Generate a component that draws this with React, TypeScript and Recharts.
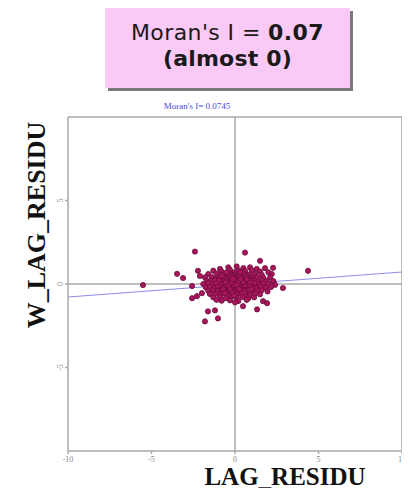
import React from "react";
import { ScatterChart, Scatter, XAxis, YAxis, ReferenceLine } from "recharts";

const xTicks = [-10, -5, 0, 5, 10];
const yTicks = [-5, 0, 5];
const regression = [
  { x: -10, y: -0.78 },
  { x: 10, y: 0.72 },
];
const titleLine1 = "Moran's I = ";
const titleValue = "0.07";
const titleLine2 = "(almost 0)";
const subtitle = "Moran's I= 0.0745";
const xTitle = "LAG_RESIDU";
const yTitle = "W_LAG_RESIDU";

const outliers: [number, number][] = [
  [-2.4, 1.94], [0.6, 1.88], [1.5, 1.39], [2.28, 0.97], [4.37, 0.79], [-3.47, 0.61],
  [-3.11, 0.36], [-2.22, 0.79], [-2.1, 0.48], [-5.51, -0.06], [-2.57, -0.12],
  [-2.57, -0.85], [-2.28, -0.73], [-1.98, -0.55], [-1.62, -1.64], [-1.2, -1.58],
  [-1.8, -2.24], [-1.02, -2.06], [0.48, -1.33], [1.32, -1.52], [1.68, -1.03],
  [1.92, -1.15], [2.87, -0.24], [2.28, 0.18],
];

const cluster: [number, number][] = [
  [-0.4, 1.0], [0.1, 1.05], [0.5, 0.95], [-0.9, 0.9], [0.9, 1.0], [1.3, 0.9], [1.8, 0.95],
  [-1.3, 0.8], [-0.8, 0.75], [-0.3, 0.85], [0.2, 0.8], [0.6, 0.78], [1.0, 0.82], [1.5, 0.75], [2.0, 0.7], [-0.05, 0.7],
  [-1.6, 0.6], [-1.1, 0.62], [-0.7, 0.58], [-0.4, 0.65], [-0.1, 0.55], [0.25, 0.6], [0.5, 0.62], [0.85, 0.57], [1.2, 0.6], [1.6, 0.55], [2.2, 0.6], [-0.25, 0.5], [0.7, 0.5],
  [-1.8, 0.4], [-1.4, 0.42], [-1.0, 0.38], [-0.75, 0.45], [-0.5, 0.4], [-0.3, 0.35], [-0.1, 0.42], [0.1, 0.38], [0.3, 0.45], [0.55, 0.4], [0.8, 0.35], [1.05, 0.42], [1.35, 0.4], [1.7, 0.38], [2.1, 0.4], [0.0, 0.3], [0.45, 0.28], [-0.6, 0.3], [-1.2, 0.3], [1.0, 0.28],
  [-1.7, 0.2], [-1.45, 0.18], [-1.2, 0.22], [-0.95, 0.2], [-0.7, 0.15], [-0.5, 0.22], [-0.35, 0.18], [-0.2, 0.25], [-0.05, 0.15], [0.1, 0.22], [0.25, 0.18], [0.4, 0.2], [0.6, 0.15], [0.75, 0.22], [0.95, 0.18], [1.15, 0.2], [1.4, 0.15], [1.65, 0.2], [1.9, 0.18], [2.3, 0.15],
  [-1.9, 0.0], [-1.6, 0.05], [-1.35, -0.02], [-1.1, 0.04], [-0.85, 0.0], [-0.65, 0.05], [-0.45, -0.03], [-0.3, 0.06], [-0.15, 0.0], [0.0, 0.05], [0.15, -0.02], [0.3, 0.04], [0.45, 0.0], [0.6, 0.06], [0.8, -0.03], [1.0, 0.02], [1.2, 0.06], [1.45, -0.02], [1.7, 0.03], [2.0, 0.0], [2.4, -0.05], [-0.55, 0.1], [0.2, 0.1], [0.9, 0.1],
  [-1.75, -0.2], [-1.5, -0.18], [-1.25, -0.22], [-1.0, -0.15], [-0.8, -0.22], [-0.6, -0.18], [-0.4, -0.25], [-0.25, -0.15], [-0.1, -0.2], [0.05, -0.12], [0.2, -0.22], [0.35, -0.15], [0.5, -0.2], [0.7, -0.25], [0.9, -0.15], [1.1, -0.2], [1.3, -0.25], [1.55, -0.15], [1.85, -0.22], [2.15, -0.18], [-0.05, -0.08], [0.6, -0.08],
  [-1.6, -0.4], [-1.3, -0.38], [-1.05, -0.42], [-0.8, -0.35], [-0.55, -0.45], [-0.35, -0.38], [-0.15, -0.42], [0.05, -0.35], [0.25, -0.45], [0.45, -0.38], [0.65, -0.42], [0.85, -0.35], [1.1, -0.45], [1.35, -0.4], [1.6, -0.38], [1.95, -0.45], [-0.7, -0.3], [0.15, -0.3], [1.0, -0.3],
  [-1.5, -0.6], [-1.15, -0.58], [-0.85, -0.62], [-0.6, -0.55], [-0.35, -0.65], [-0.1, -0.58], [0.15, -0.62], [0.4, -0.55], [0.65, -0.6], [0.9, -0.65], [1.2, -0.58], [1.5, -0.62], [-0.2, -0.5], [0.55, -0.5],
  [-1.3, -0.8], [-0.9, -0.78], [-0.55, -0.85], [-0.2, -0.75], [0.1, -0.82], [0.45, -0.78], [0.8, -0.85], [1.15, -0.8], [-0.05, -0.7],
  [-0.8, -1.0], [-0.3, -0.98], [0.2, -1.02], [0.7, -0.95], [-1.1, -0.95], [0.0, -1.1],
  [-0.2, 0.1], [0.1, -0.05], [0.35, 0.3], [-0.4, -0.1], [0.5, 0.1], [-0.15, 0.32], [0.25, -0.3], [-0.3, -0.3], [0.7, 0.3], [-0.8, 0.5], [0.3, 0.7], [-0.5, 0.7],
];

const points = [...cluster, ...outliers].map(([x, y]) => ({ x, y }));

const AXIS_GREY = "#a8a8a8";

const Dot = (props: any) => {
  const { cx, cy } = props;
  if (cx == null || cy == null) return null;
  return <circle cx={cx} cy={cy} r={2.6} fill="#a8165c" stroke="#6b0d3c" strokeWidth={0.8} />;
};

const YTick = (props: any) => {
  const { x, y, payload } = props;
  return (
    <text
      x={x}
      y={y}
      transform={`rotate(-90 ${x} ${y})`}
      textAnchor="middle"
      fontSize={8}
      fill="#888"
      fontFamily="Liberation Serif, serif"
    >
      {payload.value}
    </text>
  );
};

export default function App() {
  return (
    <div style={{ position: "relative", margin: -8, width: 410, height: 496, background: "#fff", overflow: "hidden" }}>
      <div
        style={{
          position: "absolute",
          left: 105,
          top: 8,
          width: 245,
          height: 80,
          background: "#fbc9f6",
          boxShadow: "3px 3px 0 #7a7a7a",
          fontFamily: "DejaVu Sans, Verdana, sans-serif",
          fontSize: 22,
          letterSpacing: 0.4,
          color: "#1a1a1a",
          textAlign: "center",
          lineHeight: "26px",
          paddingTop: 12,
          boxSizing: "border-box",
        }}
      >
        <div>
          {titleLine1}
          <b>{titleValue}</b>
        </div>
        <div style={{ fontWeight: "bold", letterSpacing: 0.2 }}>{titleLine2}</div>
      </div>
      <div style={{ position: "absolute", left: 0, top: 0 }}>
        <ScatterChart
          width={410}
          height={496}
          margin={{ top: 117, right: 8, bottom: 15, left: 8 }}
        >
          <XAxis
            type="number"
            dataKey="x"
            domain={[-10, 10]}
            ticks={xTicks}
            height={30}
            stroke={AXIS_GREY}
            strokeWidth={1.5}
            tickSize={3}
            tick={{ fontSize: 8, fill: "#888", fontFamily: "Liberation Serif, serif" }}
            allowDataOverflow
          />
          <YAxis
            type="number"
            dataKey="y"
            domain={[-10, 10]}
            ticks={yTicks}
            width={60}
            stroke={AXIS_GREY}
            strokeWidth={1.5}
            tickSize={3}
            tick={<YTick />}
            allowDataOverflow
          />
          <ReferenceLine x={10} stroke={AXIS_GREY} strokeWidth={1.5} />
          <ReferenceLine y={10} stroke={AXIS_GREY} strokeWidth={1.5} />
          <ReferenceLine x={0} stroke={AXIS_GREY} strokeWidth={1.5} />
          <ReferenceLine y={0} stroke={AXIS_GREY} strokeWidth={1.5} />
          <ReferenceLine segment={regression} stroke="#8c8ce8" strokeWidth={1.2} />
          <Scatter data={points} shape={<Dot />} isAnimationActive={false} />
        </ScatterChart>
      </div>
      <svg width={410} height={496} style={{ position: "absolute", left: 0, top: 0, pointerEvents: "none" }}>
        <text x={197} y={109} textAnchor="middle" fontSize={9} fill="#4a4ae0" fontFamily="Liberation Serif, serif">
          {subtitle}
        </text>
        <text x={285} y={485} textAnchor="middle" fontSize={25} fontWeight="bold" fill="#111" fontFamily="Liberation Serif, serif">
          {xTitle}
        </text>
        <text
          x={45}
          y={225}
          transform="rotate(-90 45 225)"
          textAnchor="middle"
          fontSize={26}
          fontWeight="bold"
          fill="#111"
          fontFamily="Liberation Serif, serif"
        >
          {yTitle}
        </text>
      </svg>
    </div>
  );
}
